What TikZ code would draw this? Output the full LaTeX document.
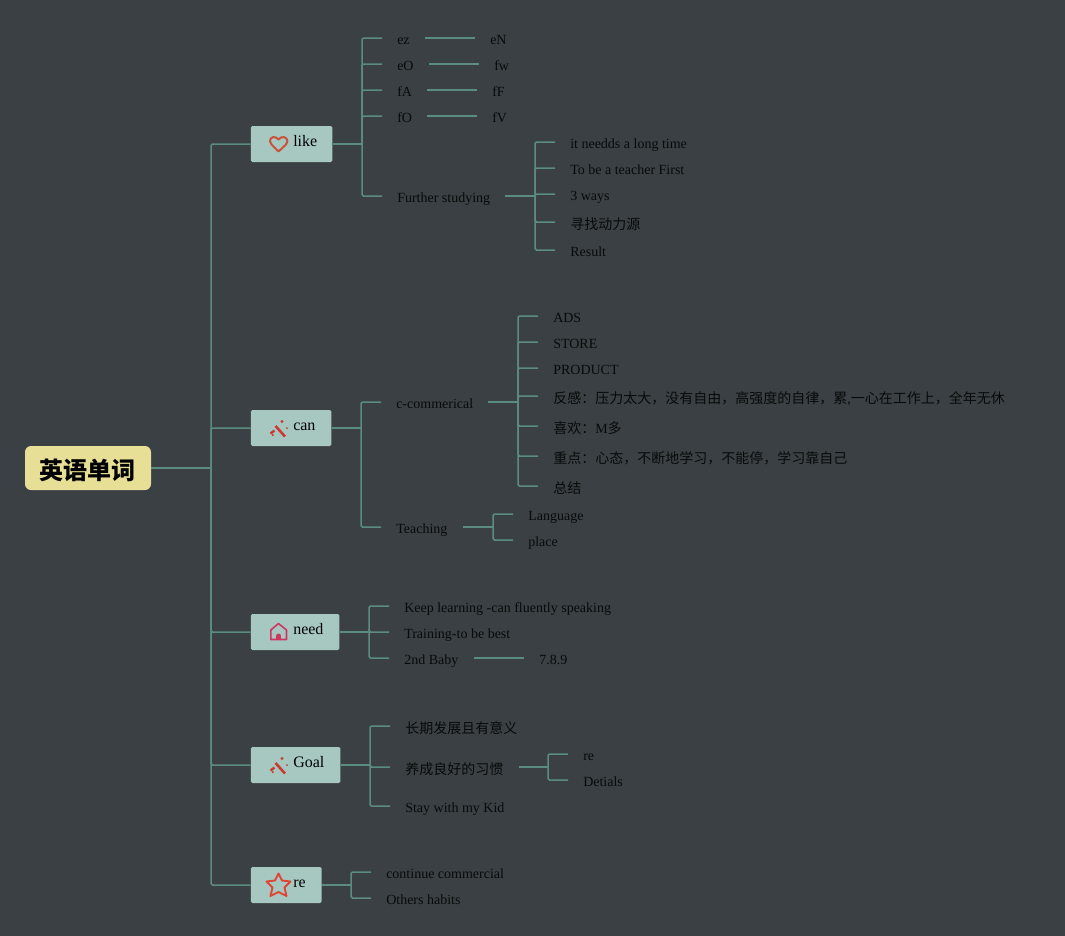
\documentclass[tikz,border=0pt]{standalone}
\usepackage{fontspec}
\setmainfont{Liberation Serif}
\newfontfamily\cjk{Noto Sans CJK SC}
\newdimen\pxu \pxu=0.75pt
\definecolor{bgc}{HTML}{3A4043}
\definecolor{linkc}{HTML}{5B8C80}
\definecolor{boxc}{HTML}{A6C8C1}
\definecolor{rootc}{HTML}{E8DF96}
\definecolor{inkc}{HTML}{080A0B}
\tikzset{
  x=0.75pt,y=-0.75pt,
  leaf/.style={anchor=west,inner xsep=15\pxu,inner ysep=0pt,text=inkc,text height=14\pxu,text depth=1\pxu,font=\fontsize{10.5}{12}\selectfont},
  cjkleaf/.style={leaf,text height=15\pxu},
  branch/.style={anchor=west,fill=boxc,rounded corners=1.5\pxu,inner xsep=0pt,inner ysep=0pt,minimum height=36\pxu,text=black,text height=12\pxu,text depth=8\pxu,font=\fontsize{12}{14}\selectfont},
  rootnode/.style={fill=rootc,rounded corners=6\pxu,inner sep=0pt,minimum width=126\pxu,minimum height=44\pxu,text=black,text height=22\pxu,text depth=0\pxu,font=\cjk\fontsize{18}{20}\selectfont\bfseries},
  link/.style={draw=linkc,line width=1.5\pxu,rounded corners=1.5\pxu},
  stem/.style={draw=linkc,line width=2\pxu},
  iconline/.style={line width=1.6\pxu,line join=round,fill=none}
}
\newcommand{\btext}[2]{\hspace*{42.5\pxu}#1\hspace*{#2\pxu}}
\begin{document}
\begin{tikzpicture}
\fill[bgc] (0,0) rectangle (1065,936);
\useasboundingbox (0,0) rectangle (1065,936);

% root and first level
\node[rootnode] (root) at (88,468) {英语单词};
\node[branch] (like) at (250.5,144) {\btext{like}{15}};
\node[branch] (can) at (250.5,428) {\btext{can}{16}};
\node[branch] (need) at (250.5,632) {\btext{need}{16}};
\node[branch] (goal) at (250.5,765) {\btext{Goal}{16}};
\node[branch] (rebox) at (250.5,885) {\btext{re}{16}};
\coordinate (trunk) at (211,468);
\draw[stem] (root.east) -- (trunk);
\foreach \b in {like,can,need,goal,rebox} \draw[link] (trunk) |- (\b.west);

% like
\node[leaf] (ez) at (382,38) {ez};
\node[leaf] (eO) at (382,64) {eO};
\node[leaf] (fA) at (382,90) {fA};
\node[leaf] (fO) at (382,116) {fO};
\node[leaf] (fs) at (382,196) {Further studying};
\node[leaf] (eN) at (475,38) {eN};
\node[leaf] (fw) at (479,64) {fw};
\node[leaf] (fF) at (477,90) {fF};
\node[leaf] (fV) at (477,116) {fV};
\coordinate (sA) at (362,144);
\draw[stem] (like.east) -- (sA);
\foreach \c in {ez,eO,fA,fO,fs} \draw[link] (sA) |- (\c.west);
\draw[link] (ez.east) -- (eN.west);
\draw[link] (eO.east) -- (fw.west);
\draw[link] (fA.east) -- (fF.west);
\draw[link] (fO.east) -- (fV.west);

\node[leaf] (f1) at (555,142) {it needds a long time};
\node[leaf] (f2) at (555,168) {To be a teacher First};
\node[leaf] (f3) at (555,194) {3 ways};
\node[cjkleaf] (f4) at (555,222) {\cjk 寻找动力源};
\node[leaf] (f5) at (555,250) {Result};
\coordinate (sB) at (535,196);
\draw[stem] (fs.east) -- (sB);
\foreach \c in {f1,f2,f3,f4,f5} \draw[link] (sB) |- (\c.west);

% can
\node[leaf] (cc) at (381,402) {c-commerical};
\node[leaf] (te) at (381,527) {Teaching};
\coordinate (sC) at (361,428);
\draw[stem] (can.east) -- (sC);
\foreach \c in {cc,te} \draw[link] (sC) |- (\c.west);

\node[leaf] (c1) at (538,316) {ADS};
\node[leaf] (c2) at (538,342) {STORE};
\node[leaf] (c3) at (538,368) {PRODUCT};
\node[cjkleaf] (c4) at (538,396) {{\cjk 反感：压力太大，没有自由，高强度的自律，累},{\cjk 一心在工作上，全年无休}};
\node[cjkleaf] (c5) at (538,426) {{\cjk 喜欢：}M{\cjk 多}};
\node[cjkleaf] (c6) at (538,456) {\cjk 重点：心态，不断地学习，不能停，学习靠自己};
\node[cjkleaf] (c7) at (538,486) {\cjk 总结};
\coordinate (sD) at (518,402);
\draw[stem] (cc.east) -- (sD);
\foreach \c in {c1,c2,c3,c4,c5,c6,c7} \draw[link] (sD) |- (\c.west);

\node[leaf] (t1) at (513,514) {Language};
\node[leaf] (t2) at (513,540) {place};
\coordinate (sE) at (493,527);
\draw[stem] (te.east) -- (sE);
\foreach \c in {t1,t2} \draw[link] (sE) |- (\c.west);

% need
\node[leaf] (n1) at (389,606) {Keep learning -can fluently speaking};
\node[leaf] (n2) at (389,632) {Training-to be best};
\node[leaf] (n3) at (389,658) {2nd Baby};
\node[leaf] (n4) at (524,658) {7.8.9};
\coordinate (sF) at (369,632);
\draw[stem] (need.east) -- (sF);
\foreach \c in {n1,n2,n3} \draw[link] (sF) |- (\c.west);
\draw[link] (n3.east) -- (n4.west);

% Goal
\node[cjkleaf] (g1) at (390,726) {\cjk 长期发展且有意义};
\node[cjkleaf] (g2) at (390,767) {\cjk 养成良好的习惯};
\node[leaf] (g3) at (390,806) {Stay with my Kid};
\coordinate (sG) at (370,765);
\draw[stem] (goal.east) -- (sG);
\foreach \c in {g1,g2,g3} \draw[link] (sG) |- (\c.west);

\node[leaf] (h1) at (568,754) {re};
\node[leaf] (h2) at (568,780) {Detials};
\coordinate (sH) at (548,767);
\draw[stem] (g2.east) -- (sH);
\foreach \c in {h1,h2} \draw[link] (sH) |- (\c.west);

% re
\node[leaf] (r1) at (371,872) {continue commercial};
\node[leaf] (r2) at (371,898) {Others habits};
\coordinate (sI) at (351,885);
\draw[stem] (rebox.east) -- (sI);
\foreach \c in {r1,r2} \draw[link] (sI) |- (\c.west);

% icons
\definecolor{heartc}{HTML}{C9523C}
\definecolor{wandc}{HTML}{C93A32}
\definecolor{housec}{HTML}{CF3560}
\definecolor{starc}{HTML}{DE4534}
\draw[iconline,draw=heartc,line width=2\pxu] (278.5,151.5) -- (271.5,144.5) .. controls (267.5,140) and (272,135.5) .. (276,137.5) .. controls (277.5,138) and (278,139) .. (278.5,139.5) .. controls (279,139) and (280,138) .. (281,137.5) .. controls (285,135.5) and (290,140) .. (286,144.5) -- cycle;

\foreach \yy in {428,765} {
  \begin{scope}[shift={(0,\yy-428)}]
  \draw[wandc,line width=2.6\pxu] (275.5,426) -- (285,436.5);
  \draw[wandc,line width=2.4\pxu] (270.5,433.5) -- (274.5,430.5);
  \fill[wandc] (272.8,435) circle (1.2);
  \fill[wandc] (282,421.5) circle (1.7);
  \fill[wandc] (287,428) circle (1);
  \end{scope}
}

\draw[iconline,draw=housec] (270.8,639.5) -- (270.8,630) -- (278.5,623.5) -- (286.5,630) -- (286.5,639.5) -- cycle;
\fill[housec] (276,639.5) rectangle (281,636);
\fill[housec] (278.5,636) circle (2.5);

\draw[iconline,draw=starc,line width=1.9\pxu] (278.5,873.5) -- (282,880.5) -- (290.5,881.5) -- (284.5,887.5) -- (286.5,896) -- (278.5,892) -- (270.5,896) -- (272.5,887.5) -- (266.5,881.5) -- (275,880.5) -- cycle;
\end{tikzpicture}
\end{document}
